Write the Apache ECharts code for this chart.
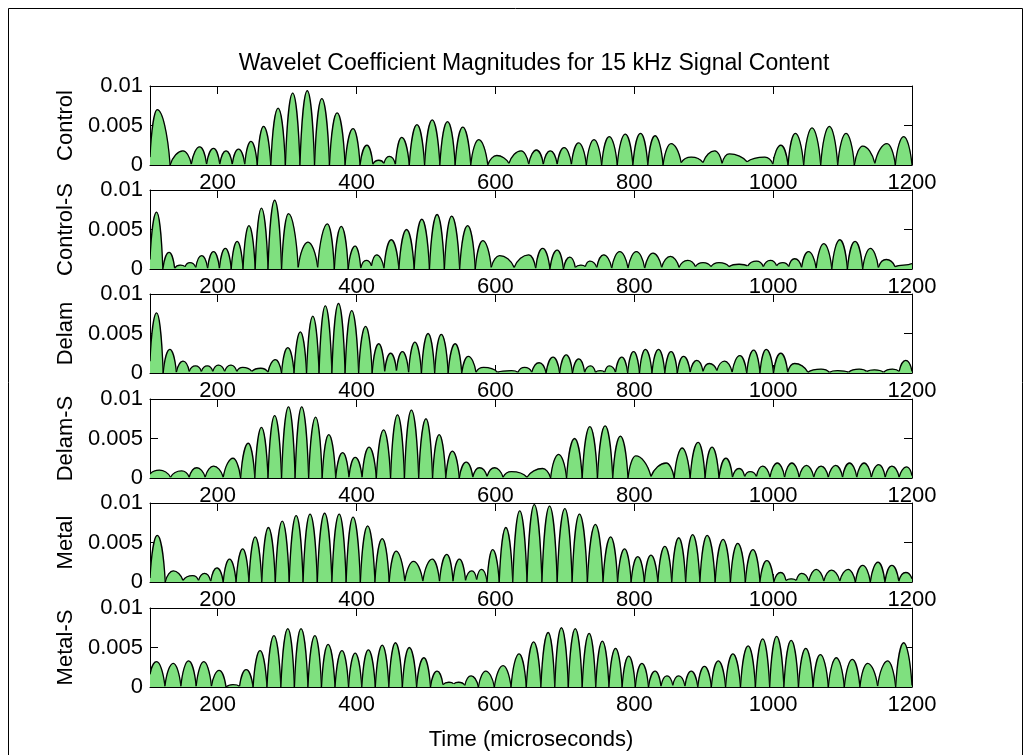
<!DOCTYPE html>
<html>
<head>
<meta charset="utf-8">
<script src="https://cdn.jsdelivr.net/npm/echarts@6/dist/echarts.min.js"></script>
<style>
  html, body { margin: 0; padding: 0; background: #fff; }
  #chart { width: 1032px; height: 755px; }
</style>
</head>
<body>
<div id="chart"></div>
<script>
// Time axis range (microseconds) and tick labels
const X_MIN = 102.5, X_MAX = 1200;
const xTicks = [200, 400, 600, 800, 1000, 1200];
const yTickLabels = ['0', '0.005', '0.01'];
const panelNames = ['Control', 'Control-S', 'Delam', 'Delam-S', 'Metal', 'Metal-S'];

// Each record: peak times, peak magnitudes, and the trough values around them
// (troughs[i] sits before peak i, the last entry is the value at the end of the record)
const controlTimes = [113,150,174,194,212,230,248,266,287,308,329,350,372,395,415,432,447,465,487,509,531,553,576,602,
  637,659,679,699,720,742,764,787,809,830,853,882,916,937,988,1011,1032,1056,1081,1105,1129,1164,1188];
const controlPeaks = [0.0070,0.0018,0.0023,0.0021,0.0018,0.0020,0.0030,0.0049,0.0072,0.0091,0.0094,0.0084,0.0066,0.0046,0.0025,0.0006,0.0011,0.0035,0.0051,0.0057,0.0055,0.0048,0.0032,0.0012,
  0.0018,0.0019,0.0018,0.0022,0.0028,0.0032,0.0036,0.0039,0.0040,0.0037,0.0027,0.0010,0.0018,0.0014,0.0010,0.0025,0.0040,0.0047,0.0049,0.0040,0.0024,0.0027,0.0036];
const controlTroughs = [0.0010,
  0,0.0001,0.0001,0.0001,0.0001,0.0001,0,0,0,0,0,0,0,0,0.0001,0.0002,0.0001,0,0,0,0,0,0,
  0.0002,
  0.0001,0.0001,0.0001,0.0001,0,0,0,0,0,0,0.0003,0.0003,0.0002,0.0004,0.0001,0,0,0,0,0,0.0002,0,
  0];

const controlSTimes = [112,130,146,160,177,194,211,228,245,263,282,302,330,358,378,398,414,429,450,472,494,516,537,560,582,606,
  648,668,689,707,723,736,756,779,803,827,852,877,899,922,951,976,996,1014,1031,1051,1073,1096,1118,1140,1163,1188];
const controlSPeaks = [0.0072,0.0021,0.0005,0.0008,0.0017,0.0022,0.0026,0.0035,0.0055,0.0077,0.0087,0.0070,0.0034,0.0057,0.0054,0.0029,0.0011,0.0018,0.0037,0.0050,0.0063,0.0069,0.0067,0.0055,0.0036,0.0017,
  0.0018,0.0026,0.0024,0.0015,0.0005,0.0010,0.0018,0.0022,0.0022,0.0020,0.0016,0.0011,0.0008,0.0008,0.0006,0.0010,0.0011,0.0008,0.0013,0.0022,0.0032,0.0037,0.0035,0.0026,0.0012,0.0005];
const controlSTroughs = [0.0012,
  0,0.0001,0.0003,0.0002,0.0001,0.0001,0,0,0,0,0,0.0002,0.0002,0,0,0.0001,0.0004,0.0001,0,0,0,0,0,0,0.0002,
  0.0002,
  0.0001,0,0,0.0002,0.0003,0.0002,0.0001,0.0001,0.0001,0.0002,0.0002,0.0003,0.0003,0.0003,0.0004,0.0003,0.0004,0.0003,0.0002,0.0001,0,0,0,0.0002,0.0003,
  0.0007];

const delamTimes = [112,131,150,168,185,201,219,236,262,283,301,319,337,355,374,393,413,432,449,466,484,503,522,542,561,583,
  623,642,663,683,702,720,737,751,764,782,799,816,835,853,871,890,908,930,952,972,990,1011,1031,1069,1093,1124,1146,1172,1191];
const delamPeaks = [0.0076,0.0030,0.0015,0.0009,0.0009,0.0010,0.0010,0.0007,0.0006,0.0017,0.0032,0.0052,0.0072,0.0085,0.0088,0.0079,0.0059,0.0037,0.0025,0.0027,0.0039,0.0050,0.0049,0.0037,0.0021,0.0007,
  0.0003,0.0007,0.0013,0.0020,0.0023,0.0018,0.0009,0.0003,0.0009,0.0020,0.0027,0.0030,0.0030,0.0027,0.0021,0.0016,0.0012,0.0015,0.0022,0.0029,0.0030,0.0025,0.0012,0.0005,0.0003,0.0005,0.0004,0.0005,0.0016];
const delamTroughs = [0.0015,
  0,0.0001,0.0002,0.0002,0.0002,0.0002,0.0002,0.0002,0.0001,0,0,0,0,0,0,0,0,0.0002,0.0003,0.0001,0,0,0,0,0.0001,
  0.0001,
  0.0001,0.0001,0,0,0,0.0001,0.0001,0.0001,0.0001,0,0,0,0,0,0.0001,0.0002,0.0003,0.0001,0,0,0,0.0001,0.0001,0.0001,0.0001,0.0002,0.0001,0.0002,
  0.0002];

const delamSTimes = [116,148,170,194,222,244,263,282,302,321,341,360,380,398,418,439,459,479,500,519,538,558,577,599,
  623,668,691,714,736,758,780,802,846,869,892,912,932,951,967,985,1006,1027,1048,1069,1090,1110,1131,1152,1171,1192];
const delamSPeaks = [0.0010,0.0009,0.0013,0.0015,0.0025,0.0044,0.0064,0.0079,0.0090,0.0090,0.0077,0.0055,0.0032,0.0026,0.0039,0.0061,0.0080,0.0086,0.0075,0.0055,0.0034,0.0020,0.0013,0.0013,
  0.0008,0.0012,0.0030,0.0050,0.0065,0.0066,0.0053,0.0028,0.0019,0.0038,0.0045,0.0039,0.0025,0.0012,0.0008,0.0015,0.0019,0.0019,0.0016,0.0015,0.0016,0.0019,0.0019,0.0017,0.0015,0.0014];
const delamSTroughs = [0.0005,
  0.0001,0.0001,0.0001,0.0001,0,0,0,0,0,0,0,0,0.0001,0.0001,0,0,0,0,0,0,0,0.0001,0.0002,
  0.0001,
  0.0001,0,0,0,0,0,0,0.0002,0,0,0,0,0.0001,0.0002,0.0002,0.0001,0.0001,0.0001,0.0001,0.0001,0.0001,0.0001,0.0001,0.0001,0.0001,
  0.0003];

const metalTimes = [113,136,164,181,199,217,236,254,273,293,313,333,354,375,395,416,437,457,482,509,530,548,566,580,596,
  615,635,656,678,700,721,744,766,786,805,824,844,864,884,905,928,949,971,991,1011,1026,1041,1062,1084,1108,1129,1151,1171,1191];
const metalPeaks = [0.0059,0.0014,0.0008,0.0011,0.0018,0.0029,0.0042,0.0057,0.0069,0.0077,0.0084,0.0086,0.0087,0.0086,0.0082,0.0071,0.0055,0.0039,0.0026,0.0029,0.0035,0.0029,0.0014,0.0016,0.0041,
  0.0069,0.0090,0.0098,0.0096,0.0093,0.0086,0.0073,0.0057,0.0042,0.0032,0.0034,0.0045,0.0056,0.0060,0.0059,0.0054,0.0049,0.0041,0.0027,0.0012,0.0004,0.0011,0.0016,0.0015,0.0016,0.0021,0.0025,0.0021,0.0012];
const metalTroughs = [0.0005,
  0,0.0002,0.0002,0.0001,0,0,0,0,0,0,0,0,0,0,0,0,0,0.0001,0.0001,0.0001,0.0001,0.0002,0.0003,0,
  0,
  0,0,0,0,0,0,0,0,0,0,0,0,0,0,0,0,0,0,0,0.0002,0.0002,0.0001,0.0001,0.0001,0,0,0,0.0001,
  0.0004];

const metalSTimes = [112,136,158,180,202,222,241,261,281,301,320,340,359,379,398,417,437,456,476,497,516,533,547,565,586,
  611,634,655,676,695,715,735,754,773,792,811,830,847,864,882,901,921,942,964,985,1005,1026,1047,1068,1091,1114,1136,1165,1188];
const metalSPeaks = [0.0032,0.0030,0.0033,0.0032,0.0021,0.0003,0.0022,0.0046,0.0065,0.0074,0.0074,0.0065,0.0054,0.0046,0.0043,0.0047,0.0053,0.0056,0.0050,0.0037,0.0020,0.0006,0.0006,0.0014,0.0020,
  0.0027,0.0042,0.0057,0.0069,0.0075,0.0074,0.0068,0.0058,0.0049,0.0039,0.0030,0.0020,0.0014,0.0014,0.0020,0.0026,0.0033,0.0042,0.0052,0.0061,0.0064,0.0059,0.0049,0.0041,0.0037,0.0035,0.0030,0.0033,0.0056];
const metalSTroughs = [0.0016,
  0.0001,0.0001,0.0001,0.0001,0,0.0001,0,0,0,0,0,0,0,0,0,0,0,0,0,0,0.0003,0.0004,0.0002,0,
  0,
  0,0,0,0,0,0,0,0,0,0,0,0.0001,0.0002,0.0001,0,0,0,0,0,0,0,0,0,0,0,0,0.0001,0,
  0.0002];

const records = [
  [controlTimes, controlPeaks, controlTroughs],
  [controlSTimes, controlSPeaks, controlSTroughs],
  [delamTimes, delamPeaks, delamTroughs],
  [delamSTimes, delamSPeaks, delamSTroughs],
  [metalTimes, metalPeaks, metalTroughs],
  [metalSTimes, metalSPeaks, metalSTroughs]
];

// ---- layout & style ----
const FONT = '"Liberation Sans", Arial, Helvetica, sans-serif';
const FILL = 'rgb(127,224,127)';
const GRID_LEFT = 150, GRID_WIDTH = 762, GRID_HEIGHT = 79;
const GRID_TOPS = [86, 190, 294, 399, 503, 608];
const TICK_LEN = 8;
const FONT_SIZE = 22;

// half-wave hump shape: steep at the trough, rounded at the crest
const RISE_X = 0.2, RISE_Y = 0.6, CAP = 0.38;

function pt(p) { return p[0].toFixed(2) + ' ' + p[1].toFixed(2); }

function humpCurve(a, p, b) {
  const dx1 = p[0] - a[0], dy1 = p[1] - a[1];
  const dx2 = b[0] - p[0], dy2 = b[1] - p[1];
  return ' C' + pt([a[0] + RISE_X * dx1, a[1] + RISE_Y * dy1]) + ' ' + pt([p[0] - CAP * dx1, p[1]]) + ' ' + pt(p) +
         ' C' + pt([p[0] + CAP * dx2, p[1]]) + ' ' + pt([b[0] - RISE_X * dx2, b[1] - RISE_Y * dy2]) + ' ' + pt(b);
}

function makeRenderItem(times, troughs) {
  return function (params, api) {
    const i = params.dataIndex;
    const n = times.length;
    const tl = i === 0 ? X_MIN : (times[i - 1] + times[i]) / 2;
    const tr = i === n - 1 ? X_MAX : (times[i] + times[i + 1]) / 2;
    const a = api.coord([tl, troughs[i] ?? 0]);
    const p = api.coord([api.value(0), api.value(1)]);
    const b = api.coord([tr, troughs[i + 1] ?? 0]);
    const a0 = api.coord([tl, 0]);
    const b0 = api.coord([tr, 0]);
    const curve = humpCurve(a, p, b);
    return {
      type: 'group',
      children: [
        {
          type: 'path',
          shape: { pathData: 'M' + pt(a0) + ' L' + pt(a) + curve + ' L' + pt(b0) + ' Z' },
          style: { fill: FILL, stroke: FILL, lineWidth: 0.6 }
        },
        {
          type: 'path',
          shape: { pathData: 'M' + pt(a) + curve },
          style: { fill: null, stroke: '#000', lineWidth: 1.3 }
        }
      ]
    };
  };
}

const grids = [], xAxes = [], yAxes = [], series = [];
const textStyle = { color: '#000', fontFamily: FONT, fontSize: FONT_SIZE };

GRID_TOPS.forEach((top, k) => {
  grids.push({
    left: GRID_LEFT, width: GRID_WIDTH, top: top, height: GRID_HEIGHT,
    show: true, backgroundColor: '#fff', borderWidth: 0
  });
  const last = k === GRID_TOPS.length - 1;
  // tick labels sit under the next panel, so they are drawn beneath the plot backgrounds
  xAxes.push({
    gridIndex: k, type: 'value', min: X_MIN, max: X_MAX, position: 'bottom', z: -1,
    axisLine: { show: false }, axisTick: { show: false }, splitLine: { show: false },
    axisLabel: { customValues: xTicks, margin: 7, formatter: v => String(v), ...textStyle },
    name: last ? 'Time (microseconds)' : '', nameLocation: 'middle', nameGap: 42,
    nameTextStyle: textStyle
  });
  xAxes.push({
    gridIndex: k, type: 'value', min: X_MIN, max: X_MAX, position: 'bottom',
    axisLine: { show: true, onZero: false, lineStyle: { color: '#000', width: 1 } },
    axisTick: { show: true, inside: true, length: TICK_LEN, customValues: xTicks, lineStyle: { color: '#000' } },
    axisLabel: { show: false }, splitLine: { show: false }
  });
  xAxes.push({
    gridIndex: k, type: 'value', min: X_MIN, max: X_MAX, position: 'top',
    axisLine: { show: true, onZero: false, lineStyle: { color: '#000', width: 1 } },
    axisTick: { show: true, inside: true, length: TICK_LEN, customValues: xTicks, lineStyle: { color: '#000' } },
    axisLabel: { show: false }, splitLine: { show: false }
  });
  yAxes.push({
    gridIndex: k, type: 'value', min: 0, max: 0.01, interval: 0.005, position: 'left',
    axisLine: { show: true, onZero: false, lineStyle: { color: '#000', width: 1 } },
    axisTick: { show: true, inside: true, length: TICK_LEN, lineStyle: { color: '#000' } },
    axisLabel: { margin: 7, formatter: (v, idx) => yTickLabels[idx], ...textStyle },
    splitLine: { show: false },
    name: panelNames[k], nameLocation: 'middle', nameRotate: 90, nameGap: 73,
    nameTextStyle: textStyle
  });
  yAxes.push({
    gridIndex: k, type: 'value', min: 0, max: 0.01, interval: 0.005, position: 'right',
    axisLine: { show: true, onZero: false, lineStyle: { color: '#000', width: 1 } },
    axisTick: { show: true, inside: true, length: TICK_LEN, lineStyle: { color: '#000' } },
    axisLabel: { show: false }, splitLine: { show: false }
  });

  const [times, peaks, troughs] = records[k];
  series.push({
    type: 'custom',
    xAxisIndex: 3 * k + 1,
    yAxisIndex: 2 * k,
    clip: true,
    silent: true,
    encode: { x: 0, y: 1 },
    data: times.map((t, i) => [t, peaks[i]]),
    renderItem: makeRenderItem(times, troughs)
  });
});

const chart = echarts.init(document.getElementById('chart'), null, { renderer: 'canvas' });
chart.setOption({
  animation: false,
  backgroundColor: '#fff',
  title: {
    text: 'Wavelet Coefficient Magnitudes for 15 kHz Signal Content',
    left: GRID_LEFT + GRID_WIDTH / 2 - 2, top: 47, textAlign: 'center',
    textStyle: { color: '#000', fontFamily: FONT, fontSize: 23, fontWeight: 'normal' }
  },
  graphic: [{
    type: 'rect', silent: true,
    shape: { x: 8.5, y: 8.5, width: 1014, height: 760 },
    style: { fill: null, stroke: '#000', lineWidth: 1 }
  }],
  grid: grids,
  xAxis: xAxes,
  yAxis: yAxes,
  series: series
});
</script>
</body>
</html>
